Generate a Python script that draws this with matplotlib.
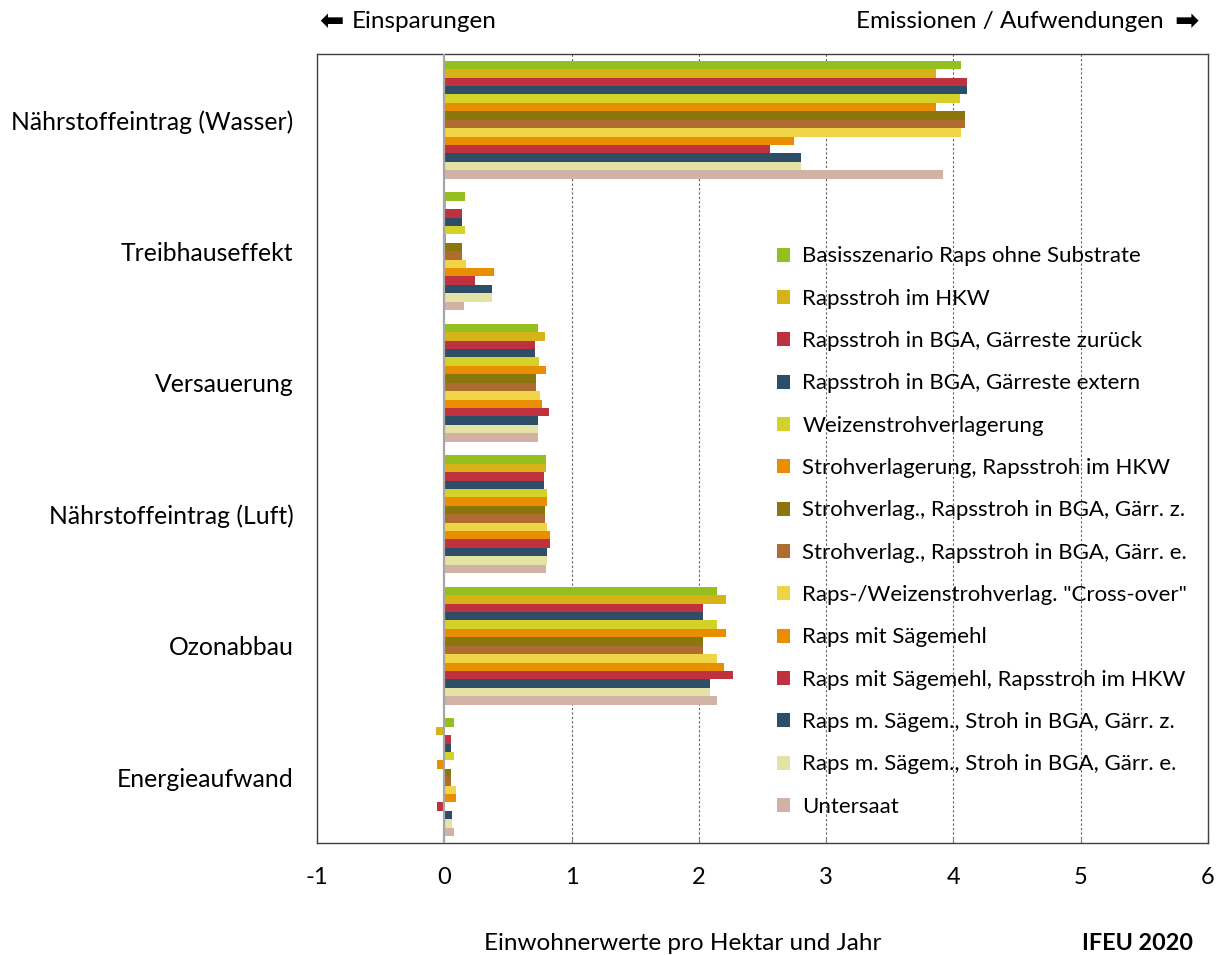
import numpy as np
import matplotlib
matplotlib.use("Agg")
import matplotlib.pyplot as plt

plt.rcParams['font.family'] = ['Lato', 'DejaVu Sans']
plt.rcParams['axes.unicode_minus'] = False

# Wirkungskategorien (von oben nach unten)
categories = ["Nährstoffeintrag (Wasser)", "Treibhauseffekt", "Versauerung",
              "Nährstoffeintrag (Luft)", "Ozonabbau", "Energieaufwand"]

scenarios = [
    "Basisszenario Raps ohne Substrate",
    "Rapsstroh im HKW",
    "Rapsstroh in BGA, Gärreste zurück",
    "Rapsstroh in BGA, Gärreste extern",
    "Weizenstrohverlagerung",
    "Strohverlagerung, Rapsstroh im HKW",
    "Strohverlag., Rapsstroh in BGA, Gärr. z.",
    "Strohverlag., Rapsstroh in BGA, Gärr. e.",
    'Raps-/Weizenstrohverlag. "Cross-over"',
    "Raps mit Sägemehl",
    "Raps mit Sägemehl, Rapsstroh im HKW",
    "Raps m. Sägem., Stroh in BGA, Gärr. z.",
    "Raps m. Sägem., Stroh in BGA, Gärr. e.",
    "Untersaat",
]

colors = ["#93c01f", "#d6b316", "#c0313f", "#2e4d66", "#d4d229", "#e88e00", "#8b760e",
          "#ae6c30", "#efd447", "#e88e00", "#c0313f", "#2e4d66", "#e2e3a5", "#d1b2a5"]

# Einwohnerwerte pro Hektar und Jahr, je Szenario
wasser = [4.06, 3.86, 4.11, 4.11, 4.05, 3.86, 4.09, 4.09, 4.06, 2.75, 2.56, 2.80, 2.80, 3.92]
treibhaus = [0.16, 0.01, 0.14, 0.14, 0.16, 0.01, 0.14, 0.14, 0.17, 0.39, 0.24, 0.375, 0.375, 0.155]
versauerung = [0.74, 0.79, 0.71, 0.71, 0.745, 0.80, 0.72, 0.72, 0.75, 0.77, 0.82, 0.74, 0.74, 0.74]
luft = [0.80, 0.80, 0.78, 0.78, 0.81, 0.81, 0.79, 0.79, 0.81, 0.83, 0.83, 0.81, 0.81, 0.80]
ozon = [2.14, 2.21, 2.03, 2.03, 2.14, 2.21, 2.03, 2.03, 2.14, 2.20, 2.27, 2.09, 2.09, 2.14]
energie = [0.08, -0.065, 0.05, 0.05, 0.08, -0.06, 0.05, 0.05, 0.09, 0.09, -0.055, 0.06, 0.06, 0.08]

values = np.array([wasser, treibhaus, versauerung, luft, ozon, energie])  # (kategorie, szenario)

fig = plt.figure(figsize=(12.19, 9.55), dpi=100)
ax = fig.add_axes([0.260, 0.1173, 0.731, 0.8262])

n = len(scenarios)
h = 0.064
y = np.arange(len(categories))
for i in range(n):
    ax.barh(y + (i - (n - 1) / 2) * h, values[:, i], height=h, color=colors[i],
            label=scenarios[i], zorder=3)

ax.set_xlim(-1, 6)
ax.set_ylim(len(categories) - 0.5, -0.5)
ax.set_xticks(range(-1, 7))
ax.set_yticks(y)
ax.set_yticklabels(categories, fontsize=17.8)
ax.tick_params(axis='y', length=0, pad=17)
ax.tick_params(axis='x', direction='in', length=4, color='#808080', labelsize=17, pad=17)

for xv in range(1, 6):
    ax.axvline(xv, color='#606060', lw=0.8, ls=(0, (2, 2)), zorder=1)
ax.axvline(0, color='#a6a6a6', lw=1.6, zorder=4)

for s in ax.spines.values():
    s.set_color('#404040')
    s.set_linewidth(1.0)

ax.legend(loc='upper left', bbox_to_anchor=(0.516, 0.756), frameon=False, fontsize=16,
          handlelength=0.6, handleheight=0.6, handletextpad=0.55, labelspacing=1.005,
          borderpad=0, borderaxespad=0)

fig.text(319 / 1219, 1 - 22 / 955, "⬅", fontsize=21, va='center', ha='left',
         family='DejaVu Sans')
fig.text(352 / 1219, 1 - 22 / 955, "Einsparungen", fontsize=17.5, va='center', ha='left')
fig.text(1164 / 1219, 1 - 22 / 955, "Emissionen / Aufwendungen", fontsize=17.5,
         va='center', ha='right')
fig.text(1199 / 1219, 1 - 22 / 955, "➡", fontsize=21, va='center', ha='right',
         family='DejaVu Sans')
fig.text(683 / 1219, 1 - 943 / 955, "Einwohnerwerte pro Hektar und Jahr", fontsize=17.5,
         va='center', ha='center')
fig.text(1193 / 1219, 1 - 943 / 955, "IFEU 2020", fontsize=16.8, fontweight='bold',
         va='center', ha='right')

fig.savefig("out.png", dpi=100)
